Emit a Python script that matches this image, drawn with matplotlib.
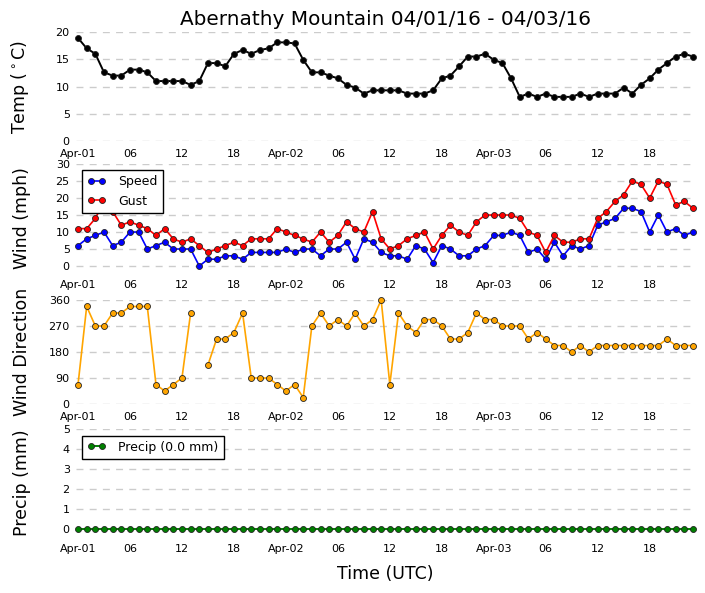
import matplotlib
matplotlib.use('Agg')
import matplotlib.pyplot as plt
import matplotlib.dates as mdates
from matplotlib.ticker import FuncFormatter
import numpy as np
import pandas as pd

#Hourly observations, Apr-01 00:00 to Apr-03 23:00 UTC
times = pd.date_range('2016-04-01 00:00', periods=72, freq='h')

temp = [18.9, 17.0, 16.0, 12.6, 12.0, 12.0, 13.1, 13.1, 12.6, 11.0, 11.0, 11.0,
        11.0, 10.3, 11.0, 14.3, 14.3, 13.7, 16.0, 16.7, 16.0, 16.7, 17.0, 18.1,
        18.1, 17.9, 14.9, 12.6, 12.6, 12.0, 11.5, 10.3, 9.8, 8.7, 9.3, 9.3,
        9.3, 9.3, 8.7, 8.7, 8.7, 9.3, 11.5, 12.0, 13.7, 15.5, 15.5, 16.0,
        14.9, 14.3, 11.5, 8.1, 8.7, 8.1, 8.7, 8.1, 8.1, 8.1, 8.7, 8.1,
        8.7, 8.7, 8.7, 9.8, 8.7, 10.3, 11.5, 13.1, 14.3, 15.5, 16.0, 15.5]

speed = [6, 8, 9, 10, 6, 7, 10, 10, 5, 6, 7, 5,
         5, 5, 0, 2, 2, 3, 3, 2, 4, 4, 4, 4,
         5, 4, 5, 5, 3, 5, 5, 7, 2, 8, 7, 4,
         3, 3, 2, 6, 5, 1, 6, 5, 3, 3, 5, 6,
         9, 9, 10, 9, 4, 5, 2, 7, 3, 6, 5, 6,
         12, 13, 14, 17, 17, 16, 10, 15, 10, 11, 9, 10]

gust = [11, 11, 14, 19, 16, 12, 13, 12, 11, 9, 11, 8,
        7, 8, 6, 4, 5, 6, 7, 6, 8, 8, 8, 11,
        10, 9, 8, 7, 10, 7, 9, 13, 11, 10, 16, 8,
        5, 6, 8, 9, 10, 5, 9, 12, 10, 9, 13, 15,
        15, 15, 15, 14, 10, 9, 4, 9, 7, 7, 8, 8,
        14, 16, 19, 21, 25, 24, 20, 25, 24, 18, 19, 17]

#Calm hour (speed 0) has no direction
direction = [67.5, 337.5, 270, 270, 315, 315, 337.5, 337.5, 337.5, 67.5, 45, 67.5,
             90, 315, np.nan, 135, 225, 225, 247.5, 315, 90, 90, 90, 67.5,
             45, 67.5, 22.5, 270, 315, 270, 292.5, 270, 315, 270, 292.5, 360,
             67.5, 315, 270, 247.5, 292.5, 292.5, 270, 225, 225, 247.5, 315, 292.5,
             292.5, 270, 270, 270, 225, 247.5, 225, 202.5, 202.5, 180, 202.5, 180,
             202.5, 202.5, 202.5, 202.5, 202.5, 202.5, 202.5, 202.5, 225, 202.5, 202.5, 202.5]

precip = [0.0, 0.0, 0.0, 0.0, 0.0, 0.0, 0.0, 0.0, 0.0, 0.0, 0.0, 0.0,
          0.0, 0.0, 0.0, 0.0, 0.0, 0.0, 0.0, 0.0, 0.0, 0.0, 0.0, 0.0,
          0.0, 0.0, 0.0, 0.0, 0.0, 0.0, 0.0, 0.0, 0.0, 0.0, 0.0, 0.0,
          0.0, 0.0, 0.0, 0.0, 0.0, 0.0, 0.0, 0.0, 0.0, 0.0, 0.0, 0.0,
          0.0, 0.0, 0.0, 0.0, 0.0, 0.0, 0.0, 0.0, 0.0, 0.0, 0.0, 0.0,
          0.0, 0.0, 0.0, 0.0, 0.0, 0.0, 0.0, 0.0, 0.0, 0.0, 0.0, 0.0]

title = 'Abernathy Mountain 04/01/16 - 04/03/16'


def fmt_time(x, pos=None):
    d = mdates.num2date(x)
    if d.hour == 0:
        return d.strftime('%b-%d')
    return d.strftime('%H')


def style_axis(ax, yticks, ylim, ylabel):
    ax.set_ylim(ylim)
    ax.set_yticks(yticks)
    pad = pd.Timedelta(minutes=14)
    ax.set_xlim(times[0] - pad, times[-1] + pad)
    ax.xaxis.set_major_locator(mdates.HourLocator(byhour=[0, 6, 12, 18]))
    ax.xaxis.set_major_formatter(FuncFormatter(fmt_time))
    for s in ax.spines.values():
        s.set_visible(False)
    ax.tick_params(axis='x', length=0, pad=5.5, labelsize=8)
    ax.tick_params(axis='y', length=0, pad=4.5, labelsize=8)
    ax.yaxis.grid(True, color='#cccccc', linestyle=(0, (5, 4.5)), linewidth=1)
    ax.set_axisbelow(True)
    ax.set_ylabel(ylabel, fontsize=12.5)
    ax.yaxis.set_label_coords(-0.073, 0.5)


fig = plt.figure(figsize=(7.05, 5.93), dpi=100)
left, width = 0.1078, 0.878
ax1 = fig.add_axes([left, 0.7622, width, 0.1838])
ax2 = fig.add_axes([left, 0.5413, width, 0.1821])
ax3 = fig.add_axes([left, 0.3187, width, 0.1754])
ax4 = fig.add_axes([left, 0.0961, width, 0.1800])

mk = dict(marker='o', markersize=4.3, markeredgecolor='#222222', markeredgewidth=0.6, clip_on=False)

ax1.plot(times, temp, color='k', linewidth=1.4, **mk)
style_axis(ax1, [0, 5, 10, 15, 20], (0, 20), 'Temp ($^\\circ$C)')
ax1.set_title(title, fontsize=14.4, pad=5)

ax2.plot(times, speed, color='b', linewidth=1.2, label='Speed', **mk)
ax2.plot(times, gust, color='r', linewidth=1.2, label='Gust', **mk)
style_axis(ax2, [0, 5, 10, 15, 20, 25, 30], (-1.76, 30), 'Wind (mph)')

ax3.plot(times, direction, color='orange', linewidth=1.2, **mk)
style_axis(ax3, [0, 90, 180, 270, 360], (0, 360), 'Wind Direction')

ax4.plot(times, precip, color='g', linewidth=1.4,
         label='Precip (%.1f mm)' % sum(precip), **mk)
style_axis(ax4, [0, 1, 2, 3, 4, 5], (-0.35, 5), 'Precip (mm)')
ax4.set_xlabel('Time (UTC)', fontsize=12.5, labelpad=8)

for ax in (ax2, ax4):
    leg = ax.legend(loc='upper left', numpoints=2, fancybox=False, framealpha=1,
                    fontsize=9, handlelength=1.5, handletextpad=1.0,
                    borderaxespad=0.5)
    leg.get_frame().set_edgecolor('k')
    leg.get_frame().set_linewidth(1.0)

fig.savefig('out.png', dpi=100, facecolor='white')
